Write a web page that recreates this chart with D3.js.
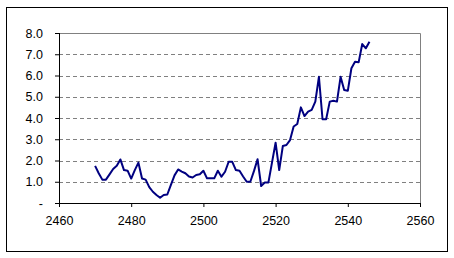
<!DOCTYPE html>
<html>
<head>
<meta charset="utf-8">
<script src="https://cdn.jsdelivr.net/npm/d3@7"></script>
<style>
  body { margin: 0; background: #fff; }
  text { font-family: "Liberation Sans", Arial, sans-serif; font-size: 12.5px; fill: #000; }
</style>
</head>
<body>
<div id="chart"></div>
<script>
// series, one value per x step
var xStart = 2470;
var values = [1.75, 1.4, 1.1, 1.1, 1.35, 1.6, 1.75, 2.05, 1.55, 1.52,
  1.15, 1.55, 1.9, 1.15, 1.1, 0.75, 0.53, 0.38, 0.25, 0.38,
  0.4, 0.85, 1.3, 1.58, 1.48, 1.4, 1.25, 1.2, 1.32, 1.35,
  1.52, 1.16, 1.16, 1.16, 1.52, 1.24, 1.47, 1.94, 1.94, 1.55,
  1.52, 1.25, 1.0, 1.0, 1.5, 2.06, 0.8, 0.96, 0.96, 1.9,
  2.84, 1.55, 2.68, 2.73, 2.96, 3.6, 3.72, 4.5, 4.09, 4.3,
  4.38, 4.77, 5.94, 3.94, 3.94, 4.77, 4.81, 4.77, 5.94, 5.32,
  5.28, 6.34, 6.65, 6.62, 7.48, 7.28, 7.59];
var xTicks = [2460, 2480, 2500, 2520, 2540, 2560];
var yTicks = [0, 1, 2, 3, 4, 5, 6, 7, 8];

var width = 454, height = 258;
var margin = {top: 33, right: 34, bottom: 55, left: 59};
var widthG = width - margin.left - margin.right;
var heightG = height - margin.top - margin.bottom;

var svg = d3.select("#chart").append("svg")
  .attr("width", width)
  .attr("height", height);

// outer frame
svg.append("rect")
  .attr("x", 6.5).attr("y", 7.5)
  .attr("width", 441).attr("height", 244)
  .attr("fill", "none").attr("stroke", "#000").attr("stroke-width", 1);

var g = svg.append("g")
  .attr("transform", "translate(" + margin.left + "," + margin.top + ")");

var x = d3.scaleLinear().domain([2460, 2560]).range([0, widthG]);
var y = d3.scaleLinear().domain([0, 8]).range([heightG, 0]);

// dashed gridlines
g.append("g").selectAll("line")
  .data(yTicks.filter(function (d) { return d > 0 && d < 8; }))
  .enter().append("line")
  .attr("x1", 0).attr("x2", widthG)
  .attr("y1", function (d) { return Math.round(y(d)) + 0.5; })
  .attr("y2", function (d) { return Math.round(y(d)) + 0.5; })
  .attr("stroke", "#808080")
  .attr("stroke-dasharray", "4,3");

// grey top and right border of plot area
g.append("path")
  .attr("d", "M0,0.5H" + (widthG + 0.5) + "V" + heightG)
  .attr("fill", "none").attr("stroke", "#808080");

var yAxis = d3.axisLeft(y)
  .tickValues(yTicks)
  .tickSize(4)
  .tickPadding(12)
  .tickFormat(function (d) { return d === 0 ? "-" : d3.format(".1f")(d); });

var xAxis = d3.axisBottom(x)
  .tickValues(xTicks)
  .tickSize(4)
  .tickPadding(9)
  .tickFormat(d3.format("d"));

var gy = g.append("g").call(yAxis);
var gx = g.append("g").attr("transform", "translate(0," + heightG + ")").call(xAxis);

[gx, gy].forEach(function (a) {
  a.select(".domain").attr("stroke", "#000");
  a.selectAll(".tick line").attr("stroke", "#000");
  a.selectAll("text").attr("font-size", null).attr("font-family", null);
});
gy.select(".domain").attr("d", "M0.5,0V" + heightG);

var line = d3.line()
  .x(function (d, i) { return x(xStart + i); })
  .y(function (d) { return y(d); });

g.append("path")
  .datum(values)
  .attr("d", line)
  .attr("fill", "none")
  .attr("stroke", "#000080")
  .attr("stroke-width", 2)
  .attr("stroke-linejoin", "round");
</script>
</body>
</html>
